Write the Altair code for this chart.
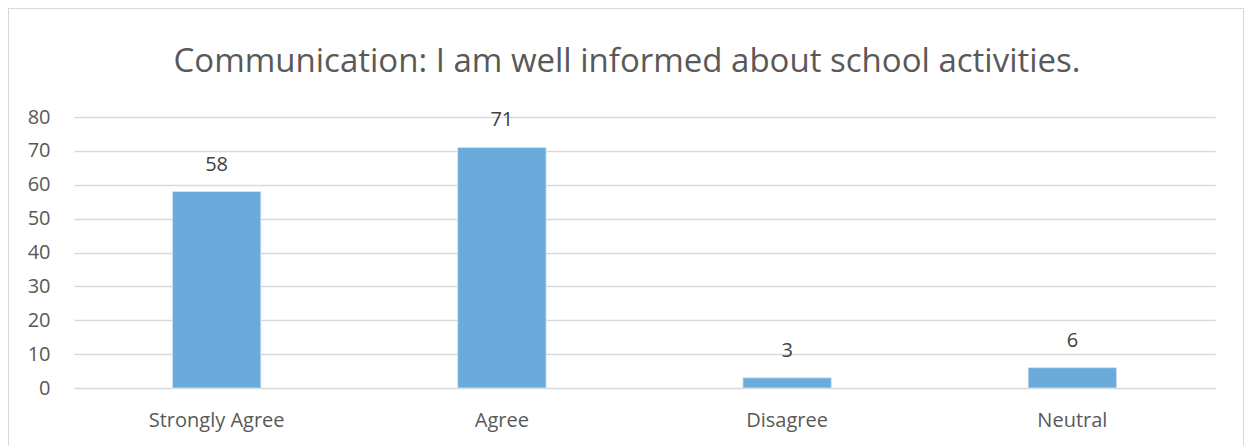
import altair as alt
import pandas as pd

categories = ["Strongly Agree", "Agree", "Disagree", "Neutral"]
counts = [58, 71, 3, 6]
y_ticks = [0, 10, 20, 30, 40, 50, 60, 70, 80]
title_text = "Communication: I am well informed about school activities."

df = pd.DataFrame({"category": categories, "count": counts})
FONT = "Open Sans"

x_enc = alt.X("category:N", sort=categories,
              scale=alt.Scale(paddingInner=0.69, paddingOuter=0.345),
              axis=alt.Axis(title=None, labelAngle=0, labelFont=FONT, labelFontSize=20,
                            labelColor="#595959", labelPadding=22, ticks=False, domain=False,
                            grid=False))
y_enc = alt.Y("count:Q", scale=alt.Scale(domain=[0, 80], nice=False),
              axis=alt.Axis(title=None, values=y_ticks, labelFont=FONT, labelFontSize=20,
                            labelColor="#595959", labelPadding=24, ticks=False, domain=False,
                            labelOverlap=False,
                            grid=True, gridColor="#d9d9d9", gridWidth=1.5))

base = alt.Chart(df)

border = base.mark_rect(fill="white", fillOpacity=0, stroke="#d9d9d9", strokeWidth=1.5, clip=False).encode(
    x=alt.value(-66), x2=alt.value(1170), y=alt.value(-109), y2=alt.value(334)
)

title = alt.Chart(pd.DataFrame({"t": [title_text]})).mark_text(
    font=FONT, fontSize=33, color="#595959", align="center", baseline="middle"
).encode(text="t:N", x=alt.value(553), y=alt.value(-55))

bars = base.mark_bar(color="#6aabdc", stroke="#d6e6f4", strokeWidth=0.8).encode(
    x=x_enc, y=y_enc,
)

labels = base.mark_text(font=FONT, fontSize=20, color="#404040", baseline="bottom", dy=-17).encode(
    x=x_enc, y=y_enc,
    text=alt.Text("count:Q"),
)

chart = alt.layer(bars, labels, border, title).properties(
    width=1141,
    height=271,
    autosize=alt.AutoSizeParams(type="none"),
    padding={"left": 66, "top": 109, "right": 29, "bottom": 58},
).configure(background="white").configure_view(stroke=None)

chart.save("out.html", embed_options={"renderer": "svg", "actions": False})
